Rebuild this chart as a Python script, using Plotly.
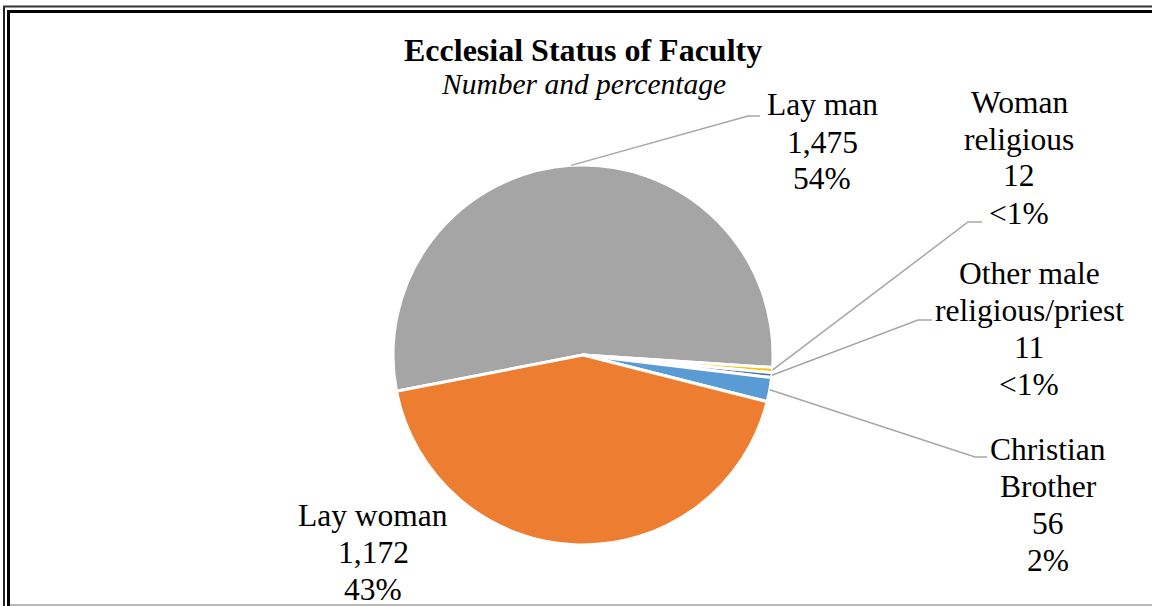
import math
import plotly.graph_objects as go

# ---------------- data ----------------
categories = ["Lay man", "Woman religious", "Other male religious/priest",
              "Christian Brother", "Lay woman"]
counts = [1475, 12, 11, 56, 1172]
label_lines = [["Lay man"], ["Woman", "religious"], ["Other male", "religious/priest"],
               ["Christian", "Brother"], ["Lay woman"]]
colors = ["#A5A5A5", "#FFC000", "#4472C4", "#5B9BD5", "#ED7D31"]
title_text = "Ecclesial Status of Faculty"
subtitle_text = "Number and percentage"

# ---------------- layout geometry (pixels) ----------------
W, H = 1152, 606
CX, CY, R = 583, 355, 190
START_ANGLE = 259  # clockwise from 12 o'clock, where first slice begins

# label block: (center x, center y of first line), leader elbow, leader end
label_pos = [(822, 105), (1019, 102), (1029, 273), (1048, 449), (373, 515)]
leader = [((748, 116), (760, 116)),
          ((968, 222), (982, 222)),
          ((918, 320), (932, 320)),
          ((975, 457), (987, 457)),
          None]
LINE_H = 37
FONT = "Liberation Serif, Times New Roman, serif"
FS = 31.5


def px(x):
    return x / W


def py(y):
    return 1 - y / H


total = sum(counts)

fig = go.Figure(go.Pie(
    labels=categories,
    values=counts,
    sort=False,
    direction="clockwise",
    rotation=START_ANGLE if START_ANGLE <= 180 else START_ANGLE - 360,
    marker=dict(colors=colors, line=dict(color="white", width=3)),
    textinfo="none",
    hoverinfo="label+value+percent",
    showlegend=False,
    domain=dict(x=[px(CX - R), px(CX + R)], y=[py(CY + R), py(CY - R)]),
))

annotations = []
shapes = []

# title
annotations.append(dict(text="<b>" + title_text + "</b>", x=px(CX), y=py(50),
                        xref="paper", yref="paper", showarrow=False,
                        xanchor="center", yanchor="middle",
                        font=dict(family=FONT, size=32, color="black")))
annotations.append(dict(text="<i>" + subtitle_text + "</i>", x=px(CX), y=py(84),
                        xref="paper", yref="paper", showarrow=False,
                        xanchor="center", yanchor="middle",
                        font=dict(family=FONT, size=29.5, color="black")))

# labels and leader lines
cum = 0
for i, c in enumerate(counts):
    mid = START_ANGLE + (cum + c / 2) / total * 360
    cum += c
    a = math.radians(mid)
    ax, ay = CX + R * math.sin(a), CY - R * math.cos(a)
    pct = c / total * 100
    pct_txt = "<1%" if pct < 1 else f"{round(pct)}%"
    lines = label_lines[i] + [f"{c:,}", pct_txt]
    lx, ly = label_pos[i]
    for k, t in enumerate(lines):
        annotations.append(dict(text=t.replace("<", "&lt;"), x=px(lx), y=py(ly + k * LINE_H),
                                xref="paper", yref="paper", showarrow=False,
                                xanchor="center", yanchor="middle",
                                font=dict(family=FONT, size=FS, color="black")))
    if leader[i] is not None:
        (ex, ey), (fx, fy) = leader[i]
        path = f"M {px(ax)},{py(ay)} L {px(ex)},{py(ey)} L {px(fx)},{py(fy)}"
        shapes.append(dict(type="path", path=path, xref="paper", yref="paper",
                           line=dict(color="#A6A6A6", width=1.5)))

# double frame
shapes += [
    dict(type="line", xref="paper", yref="paper", x0=px(4), x1=px(4), y0=py(6), y1=py(H + 5),
         line=dict(color="#222222", width=2)),
    dict(type="line", xref="paper", yref="paper", x0=px(3), x1=px(W + 5), y0=py(6.5), y1=py(6.5),
         line=dict(color="#333333", width=2)),
    dict(type="line", xref="paper", yref="paper", x0=px(8.5), x1=px(8.5), y0=py(10.5), y1=py(H + 5),
         line=dict(color="black", width=3)),
    dict(type="line", xref="paper", yref="paper", x0=px(7), x1=px(W + 5), y0=py(11.5), y1=py(11.5),
         line=dict(color="black", width=3)),
    dict(type="line", xref="paper", yref="paper", x0=px(10), x1=px(W + 5), y0=py(605), y1=py(605),
         line=dict(color="#A0A0A0", width=1.5)),
]

fig.update_layout(
    width=W, height=H,
    margin=dict(l=0, r=0, t=0, b=0),
    paper_bgcolor="white", plot_bgcolor="white",
    annotations=annotations,
    shapes=shapes,
)

fig.write_html("out.html",
               config={"displayModeBar": False},
               post_script="document.body.style.margin='0';document.body.style.overflow='hidden';")
